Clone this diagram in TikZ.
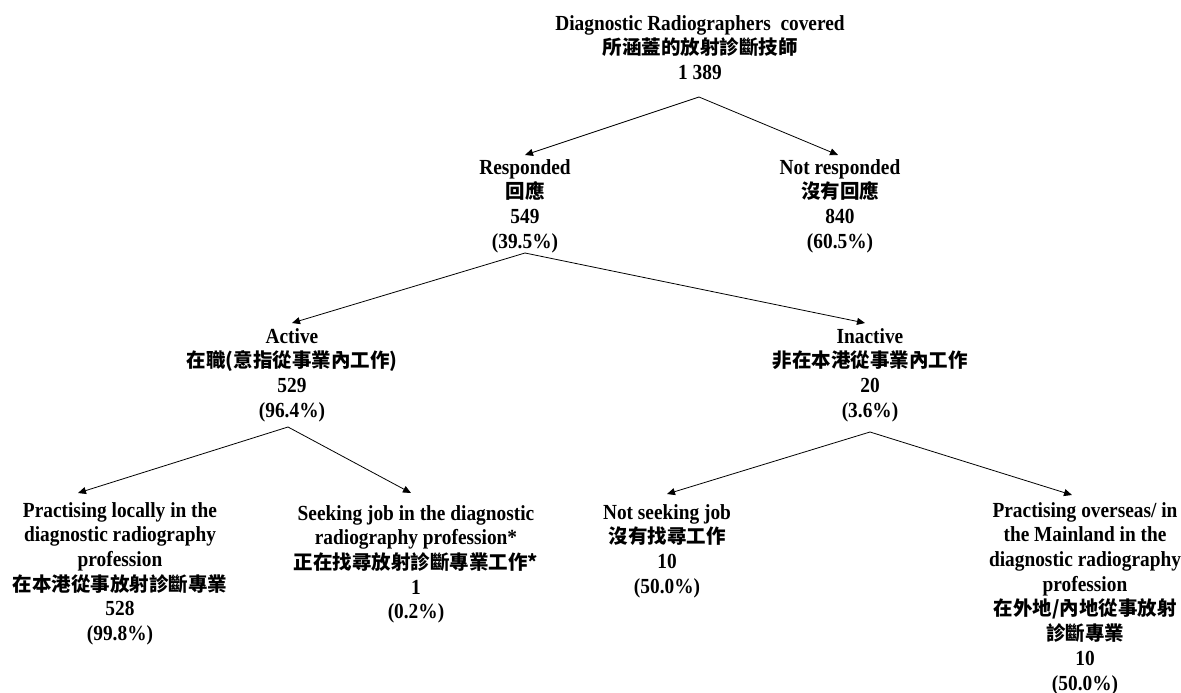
\documentclass[tikz,border=0pt]{standalone}
\usepackage{fontspec}
\setmainfont{Liberation Serif}[FakeStretch=0.9]
\newfontfamily\cjk{Noto Sans CJK TC}
\newcommand{\zh}[1]{{\cjk\fontsize{19.5}{24.7}\selectfont #1}}
\usetikzlibrary{arrows.meta}

\begin{document}
\begin{tikzpicture}[
    x=1pt, y=-1pt,
    cat/.style={align=center, anchor=north, inner sep=0pt,
      font=\bfseries\fontsize{21.5}{24.7}\selectfont},
    arr/.style={-{Triangle[length=8pt,width=7pt]}, line width=0.8pt}
  ]
  \useasboundingbox (0,0) rectangle (1181,693);

  % all radiographers
  \node[cat] (all) at (700,15) {Diagnostic Radiographers\ \ covered\\ \zh{所涵蓋的放射診斷技師}\\ 1 389};

  % response
  \node[cat] (resp)  at (525,159) {Responded\\ \zh{回應}\\ 549\\ (39.5\%)};
  \node[cat] (nresp) at (840,159) {Not responded\\ \zh{沒有回應}\\ 840\\ (60.5\%)};

  % active or not
  \node[cat] (act)   at (292,328) {Active\\ \zh{在職(意指從事業內工作)}\\ 529\\ (96.4\%)};
  \node[cat] (inact) at (870,328) {Inactive\\ \zh{非在本港從事業內工作}\\ 20\\ (3.6\%)};

  % leaves
  \node[cat] (loc)   at (120,502) {Practising locally in the\\ diagnostic radiography\\ profession\\ \zh{在本港從事放射診斷專業}\\ 528\\ (99.8\%)};
  \node[cat] (seek)  at (416,505) {Seeking job in the diagnostic\\ radiography profession*\\ \zh{正在找尋放射診斷專業工作*}\\ 1\\ (0.2\%)};
  \node[cat] (nseek) at (667,504) {Not seeking job\\ \zh{沒有找尋工作}\\ 10\\ (50.0\%)};
  \node[cat] (ovs)   at (1085,502) {Practising overseas/ in\\ the Mainland in the\\ diagnostic radiography\\ profession\\ \zh{在外地/內地從事放射}\\ \zh{診斷專業}\\ 10\\ (50.0\%)};

  % split points
  \coordinate (s0) at (699,97);
  \coordinate (s1) at (525,253);
  \coordinate (s2) at (288,427);
  \coordinate (s3) at (870,432);

  \draw[arr] (s0) -- ([yshift=4pt]resp.north);
  \draw[arr] (s0) -- ([xshift=-2pt,yshift=4pt]nresp.north);
  \draw[arr] (s1) -- ([yshift=5pt]act.north);
  \draw[arr] (s1) -- ([xshift=-5pt,yshift=5pt]inact.north);
  \draw[arr] (s2) -- ([xshift=-42pt,yshift=9pt]loc.north);
  \draw[arr] (s2) -- ([xshift=-5pt,yshift=12pt]seek.north);
  \draw[arr] (s3) -- ([yshift=10pt]nseek.north);
  \draw[arr] (s3) -- ([xshift=-13pt,yshift=7pt]ovs.north);
\end{tikzpicture}
\end{document}
